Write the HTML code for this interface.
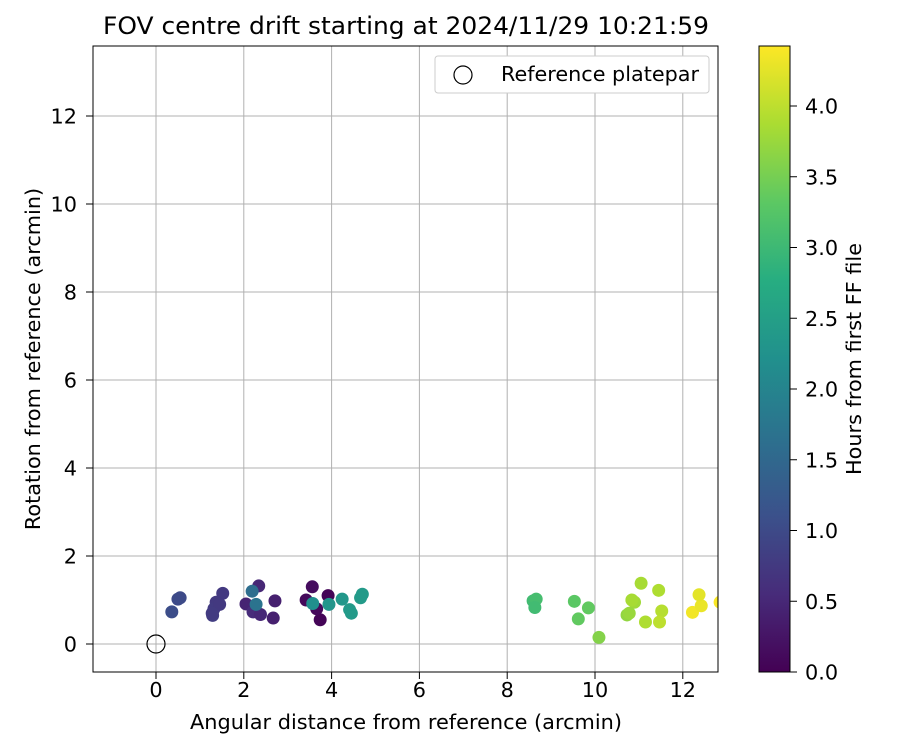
<!DOCTYPE html>
<html><head><meta charset="utf-8"><style>
body{margin:0;background:#fff;font-family:"DejaVu Sans","Liberation Sans",sans-serif}
svg text{font-family:"DejaVu Sans","Liberation Sans",sans-serif;fill:#000}
</style></head><body>
<svg id="chart" width="900" height="750" viewBox="0 0 900 750" xmlns="http://www.w3.org/2000/svg">
<defs>
<linearGradient id="vir" x1="0" y1="1" x2="0" y2="0">
<stop offset="0" stop-color="#440154"/><stop offset="0.125" stop-color="#472c7a"/><stop offset="0.25" stop-color="#3b518b"/><stop offset="0.375" stop-color="#2c718e"/><stop offset="0.5" stop-color="#21908d"/><stop offset="0.625" stop-color="#27ad81"/><stop offset="0.75" stop-color="#5cc863"/><stop offset="0.875" stop-color="#aadc32"/><stop offset="1" stop-color="#fde725"/>
</linearGradient>
<clipPath id="clip"><rect x="93" y="46" width="625" height="626"/></clipPath>
</defs>
<text x="406" y="34" font-size="24" text-anchor="middle" textLength="606" lengthAdjust="spacingAndGlyphs">FOV centre drift starting at 2024/11/29 10:21:59</text>
<g id="grid"></g>
<g id="points" clip-path="url(#clip)"></g>
<rect x="93" y="46" width="625" height="626" fill="none" stroke="#000" stroke-width="1"/>
<g id="ticks"></g>
<text x="406" y="729" font-size="20.8" text-anchor="middle" textLength="432" lengthAdjust="spacingAndGlyphs">Angular distance from reference (arcmin)</text>
<text transform="translate(40,359) rotate(-90)" font-size="20.8" text-anchor="middle">Rotation from reference (arcmin)</text>
<g>
<rect x="435" y="56" width="274" height="37" rx="3" fill="#fff" stroke="#ccc"/>
<circle cx="463" cy="75" r="9" fill="none" stroke="#000" stroke-width="1.2"/>
<text x="501" y="81" font-size="20.8" textLength="198" lengthAdjust="spacingAndGlyphs">Reference platepar</text>
</g>
<rect x="759" y="46" width="31" height="626" fill="url(#vir)" stroke="#000" stroke-width="1"/>
<g id="cbticks"></g>
<text transform="translate(861,359) rotate(-90)" font-size="20.8" text-anchor="middle">Hours from first FF file</text>
</svg>
<script>
const xs=[0.55,0.36,0.5,1.52,1.37,1.32,1.29,1.45,1.28,2.34,2.05,2.21,2.71,2.67,2.38,2.19,2.28,3.56,3.42,3.92,3.74,3.66,3.57,3.94,4.24,4.41,4.45,4.70,4.66,8.59,8.66,8.63,9.53,9.85,9.62,10.09,10.73,10.90,10.78,10.84,11.05,11.45,11.52,11.15,11.47,12.22,12.42,12.37,12.85];
const ys=[1.05,0.73,1.02,1.15,0.95,0.8,0.65,0.9,0.7,1.32,0.91,0.73,0.98,0.59,0.67,1.2,0.9,1.3,1.0,1.1,0.55,0.8,0.92,0.9,1.02,0.78,0.7,1.13,1.05,0.98,1.02,0.83,0.97,0.82,0.57,0.15,0.66,0.95,0.7,1.0,1.38,1.22,0.75,0.5,0.5,0.72,0.87,1.12,0.95];
const hours=[1.0,1.05,1.0,0.75,0.75,0.78,0.8,0.75,0.78,0.5,0.45,0.55,0.4,0.4,0.5,1.6,1.7,0.15,0.1,0.05,0.05,0.1,2.2,2.3,2.35,2.4,2.4,2.4,2.4,3.05,3.1,3.05,3.3,3.35,3.35,3.6,3.7,3.8,3.75,3.85,3.85,3.9,3.95,3.9,4.0,4.35,4.3,4.25,4.4];
const xTicks=[0,2,4,6,8,10,12];
const yTicks=[0,2,4,6,8,10,12];
const cTicks=[0.0,0.5,1.0,1.5,2.0,2.5,3.0,3.5,4.0];
const NS="http://www.w3.org/2000/svg";
const X=v=>156+v*43.9, Y=v=>644-v*44, C=v=>672-v*141.5;
const stops=[[68,1,84],[71,44,122],[59,81,139],[44,113,142],[33,144,141],[39,173,129],[92,200,99],[170,220,50],[253,231,37]];
function vir(h){let t=Math.max(0,Math.min(1,h/4.424))*8;let i=Math.min(7,Math.floor(t)),f=t-i;const a=stops[i],b=stops[i+1];return`rgb(${a.map((c,k)=>Math.round(c+(b[k]-c)*f)).join(',')})`;}
function mk(tag,at,parent){const e=document.createElementNS(NS,tag);for(const k in at)e.setAttribute(k,at[k]);parent.appendChild(e);return e;}
const grid=document.getElementById('grid'),ticks=document.getElementById('ticks'),pts=document.getElementById('points'),cb=document.getElementById('cbticks');
xTicks.forEach(v=>{const l=mk('line',{x1:X(v),x2:X(v),y1:46,y2:672,stroke:'#b0b0b0','stroke-width':1},grid);


mk('line',{x1:X(v),x2:X(v),y1:672,y2:679,stroke:'#000'},ticks);
const t=mk('text',{x:X(v),y:697,'font-size':20.8,'text-anchor':'middle'},ticks);t.textContent=v;

});
yTicks.forEach(v=>{const l=mk('line',{x1:93,x2:718,y1:Y(v),y2:Y(v),stroke:'#b0b0b0','stroke-width':1},grid);


mk('line',{x1:86,x2:93,y1:Y(v),y2:Y(v),stroke:'#000'},ticks);
const t=mk('text',{x:77,y:Y(v)+7.5,'font-size':20.8,'text-anchor':'end'},ticks);t.textContent=v;

});
xs.forEach((x,i)=>{const c=mk('circle',{cx:X(x),cy:Y(ys[i]),r:6.5,fill:vir(hours[i])},pts);

});
const ref=mk('circle',{cx:X(0),cy:Y(0),r:9,fill:'none',stroke:'#000','stroke-width':1.2},pts);


cTicks.forEach(v=>{mk('line',{x1:790,x2:797,y1:C(v),y2:C(v),stroke:'#000'},cb);
const t=mk('text',{x:805,y:C(v)+7.5,'font-size':20.8},cb);t.textContent=v.toFixed(1);

});
</script>
</body></html>
